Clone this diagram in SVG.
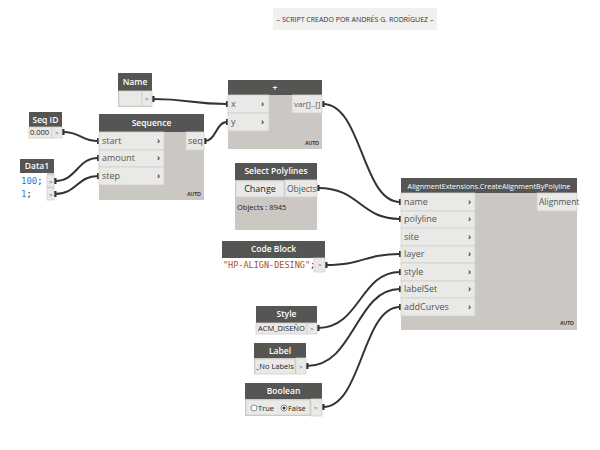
<svg xmlns="http://www.w3.org/2000/svg" width="600" height="450" viewBox="0 0 600 450">
<defs>
<style>
.hd{fill:#555553}
.bd{fill:#cbc8c3}
.cell{fill:#e9e9e7;stroke:#d2d0cc;stroke-width:0.8}
.ht{font-family:"Open Sans","Liberation Sans",sans-serif;font-size:8.5px;font-weight:600;fill:#ffffff;text-anchor:middle}
.pt{font-family:"Open Sans","Liberation Sans",sans-serif;font-size:9px;fill:#555}
.ch{font-family:"Liberation Sans",sans-serif;font-size:9px;font-weight:bold;fill:#333}
.sm{font-family:"Liberation Sans",sans-serif;font-size:6px;fill:#555}
.auto{font-family:"Liberation Sans",sans-serif;font-size:5px;font-weight:bold;fill:#333;text-anchor:end}
.mono{font-family:"DejaVu Sans Mono","Liberation Mono",monospace;font-size:8.5px}
.wire{fill:none;stroke:#333;stroke-width:2}
.note{font-family:"Open Sans","Liberation Sans",sans-serif;font-size:7px;fill:#333;text-anchor:middle}
</style>
<marker id="tick" markerWidth="3" markerHeight="6" refX="1.5" refY="3" orient="auto" markerUnits="userSpaceOnUse">
<rect x="0" y="0" width="3" height="6" fill="#333"/>
</marker>
</defs>
<rect width="600" height="450" fill="#ffffff"/>

<g id="note">
<rect x="273" y="8" width="164" height="22" fill="#f0f0f0"/>
<text class="note" x="355" y="22">– SCRIPT CREADO POR  ANDRÉS G.  RODRÍGUEZ –</text>
</g>

<g id="connectors">
<path class="wire" marker-start="url(#tick)" marker-end="url(#tick)" d="M153,99 C190,99 190,104 227,104"/>
<path class="wire" marker-start="url(#tick)" marker-end="url(#tick)" d="M205,141 C216,141 216,122 227,122"/>
<path class="wire" marker-start="url(#tick)" marker-end="url(#tick)" d="M63,132 C81,132 81,141 98,141"/>
<path class="wire" marker-start="url(#tick)" marker-end="url(#tick)" d="M55,181 C77,181 77,158 98,158"/>
<path class="wire" marker-start="url(#tick)" marker-end="url(#tick)" d="M55,194 C77,194 77,176 98,176"/>
<path class="wire" marker-start="url(#tick)" marker-end="url(#tick)" d="M323,104 C362,104 362,202 400,202"/>
<path class="wire" marker-start="url(#tick)" marker-end="url(#tick)" d="M318,188 C360,188 360,219 400,219"/>
<path class="wire" marker-start="url(#tick)" marker-end="url(#tick)" d="M326,265 C364,265 364,254 400,254"/>
<path class="wire" marker-start="url(#tick)" marker-end="url(#tick)" d="M318,328 C360,328 360,272 400,272"/>
<path class="wire" marker-start="url(#tick)" marker-end="url(#tick)" d="M307,366 C355,366 355,289 400,289"/>
<path class="wire" marker-start="url(#tick)" marker-end="url(#tick)" d="M323,407 C362,407 362,307 400,307"/>
</g>

<g id="name">
<rect class="bd" x="118" y="73" width="34" height="34"/>
<rect class="hd" x="118" y="73" width="34" height="18"/>
<text class="ht" x="135" y="85">Name</text>
<rect class="cell" x="119" y="91" width="23" height="15"/>
<rect class="cell" x="142" y="91" width="10" height="15"/>
<text class="sm" x="145" y="101">&gt;</text>
</g>

<g id="plus">
<rect class="bd" x="228" y="80" width="94" height="69"/>
<rect class="hd" x="228" y="80" width="94" height="15"/>
<text class="ht" x="275" y="91">+</text>
<rect class="cell" x="228" y="95" width="41" height="18"/>
<rect class="cell" x="228" y="113" width="41" height="18"/>
<text class="pt" x="231" y="107">x</text>
<text class="pt" x="231" y="125">y</text>
<text class="ch" x="261" y="107">›</text>
<text class="ch" x="261" y="125">›</text>
<rect class="cell" x="292" y="95" width="30" height="18"/>
<text class="pt" x="294" y="107" style="font-size:8px">var[]..[]</text>
<text class="auto" x="319" y="145">AUTO</text>
</g>

<g id="seqid">
<rect class="bd" x="29" y="112" width="33" height="26"/>
<rect class="hd" x="29" y="112" width="33" height="15"/>
<text class="ht" x="45.5" y="123">Seq ID</text>
<rect class="cell" x="29" y="127" width="23" height="11"/>
<rect class="cell" x="52" y="127" width="10" height="11"/>
<text class="pt" x="30" y="135" style="font-size:7.5px;fill:#222">0.000</text>
<text class="sm" x="55" y="135">&gt;</text>
</g>

<g id="sequence">
<rect class="bd" x="99" y="114" width="105" height="86"/>
<rect class="hd" x="99" y="114" width="105" height="18"/>
<text class="ht" x="151.5" y="126">Sequence</text>
<rect class="cell" x="99" y="132" width="65" height="18"/>
<rect class="cell" x="99" y="150" width="65" height="17"/>
<rect class="cell" x="99" y="167" width="65" height="18"/>
<text class="pt" x="102" y="144">start</text>
<text class="pt" x="102" y="161">amount</text>
<text class="pt" x="102" y="179">step</text>
<text class="ch" x="157" y="144">›</text>
<text class="ch" x="157" y="161">›</text>
<text class="ch" x="157" y="179">›</text>
<rect class="cell" x="186" y="132" width="18" height="18"/>
<text class="pt" x="188" y="144">seq</text>
<text class="auto" x="201" y="196">AUTO</text>
</g>

<g id="data1">
<rect class="bd" x="20" y="159" width="34" height="41"/>
<rect class="hd" x="20" y="159" width="34" height="14"/>
<text class="ht" x="37" y="169">Data1</text>
<rect fill="#ffffff" x="20" y="173" width="27" height="27"/>
<text class="mono" x="21" y="184" style="font-size:9px"><tspan fill="#2b7fd6">100</tspan><tspan fill="#222">;</tspan></text>
<text class="mono" x="21" y="197" style="font-size:9px"><tspan fill="#2b7fd6">1</tspan><tspan fill="#222">;</tspan></text>
<rect class="cell" x="47" y="175" width="7" height="12"/>
<rect class="cell" x="47" y="188" width="7" height="12"/>
<text class="sm" x="49" y="184">&gt;</text>
<text class="sm" x="49" y="197">&gt;</text>
</g>

<g id="selectpolylines">
<rect class="bd" x="235" y="163" width="82" height="67"/>
<rect class="hd" x="235" y="163" width="82" height="17"/>
<text class="ht" x="276" y="174">Select Polylines</text>
<rect class="cell" x="236" y="181" width="48" height="16"/>
<text class="pt" x="260" y="192" text-anchor="middle" style="fill:#222">Change</text>
<rect class="cell" x="285" y="180" width="32" height="17"/>
<text class="pt" x="287" y="192" style="font-size:8.5px">Objects</text>
<text class="pt" x="237" y="210" style="font-size:7.5px;fill:#222">Objects : 8945</text>
</g>

<g id="codeblock">
<rect class="bd" x="222" y="241" width="103" height="31"/>
<rect class="hd" x="222" y="241" width="103" height="17"/>
<text class="ht" x="273.5" y="252">Code Block</text>
<rect fill="#ffffff" x="222" y="258" width="92" height="14"/>
<text class="mono" x="223" y="268"><tspan fill="#a0522d">"HP-ALIGN-DESING"</tspan><tspan fill="#222">;</tspan></text>
<rect class="cell" x="314" y="258" width="11" height="14"/>
<text class="sm" x="318" y="267">&gt;</text>
</g>

<g id="alignment">
<rect class="bd" x="401" y="178" width="176" height="152"/>
<rect class="hd" x="401" y="178" width="176" height="15"/>
<text class="ht" x="489" y="189" style="font-size:7.2px;font-weight:normal">AlignmentExtensions.CreateAlignmentByPolyline</text>
<rect class="cell" x="401" y="193" width="74" height="18"/>
<rect class="cell" x="401" y="211" width="74" height="17"/>
<rect class="cell" x="401" y="228" width="74" height="18"/>
<rect class="cell" x="401" y="246" width="74" height="17"/>
<rect class="cell" x="401" y="263" width="74" height="18"/>
<rect class="cell" x="401" y="281" width="74" height="17"/>
<rect class="cell" x="401" y="298" width="74" height="18"/>
<text class="pt" x="404" y="205">name</text>
<text class="pt" x="404" y="222">polyline</text>
<text class="pt" x="404" y="240">site</text>
<text class="pt" x="404" y="257">layer</text>
<text class="pt" x="404" y="275">style</text>
<text class="pt" x="404" y="292">labelSet</text>
<text class="pt" x="404" y="310">addCurves</text>
<text class="ch" x="468" y="205">›</text>
<text class="ch" x="468" y="222">›</text>
<text class="ch" x="468" y="240">›</text>
<text class="ch" x="468" y="257">›</text>
<text class="ch" x="468" y="275">›</text>
<text class="ch" x="468" y="292">›</text>
<text class="ch" x="468" y="310">›</text>
<rect class="cell" x="537" y="193" width="40" height="18"/>
<text class="pt" x="539" y="205" style="font-size:8.5px">Alignment</text>
<text class="auto" x="574" y="325">AUTO</text>
</g>

<g id="style">
<rect class="bd" x="256" y="306" width="61" height="28"/>
<rect class="hd" x="256" y="306" width="61" height="17"/>
<text class="ht" x="286.5" y="317">Style</text>
<rect class="cell" x="256" y="323" width="51" height="11"/>
<rect class="cell" x="307" y="323" width="10" height="11"/>
<text class="pt" x="258" y="331" style="font-size:7.5px;fill:#222">ACM_DISEÑO</text>
<text class="sm" x="310" y="331">&gt;</text>
</g>

<g id="label">
<rect class="bd" x="254" y="343" width="52" height="31"/>
<rect class="hd" x="254" y="343" width="52" height="15"/>
<text class="ht" x="280" y="354">Label</text>
<rect class="cell" x="255" y="359" width="40" height="15"/>
<rect class="cell" x="296" y="358" width="10" height="16"/>
<text class="pt" x="256" y="369" style="font-size:7.5px;fill:#222">_No Labels</text>
<text class="sm" x="299" y="369">&gt;</text>
</g>

<g id="boolean">
<rect class="bd" x="245" y="383" width="77" height="33"/>
<rect class="hd" x="245" y="383" width="77" height="16"/>
<text class="ht" x="283.5" y="394">Boolean</text>
<rect class="cell" x="246" y="400" width="64" height="15"/>
<rect class="cell" x="311" y="399" width="11" height="17"/>
<circle cx="254" cy="408" r="3" fill="#fff" stroke="#444" stroke-width="0.6"/>
<text class="pt" x="258" y="411" style="font-size:7.5px;fill:#222">True</text>
<circle cx="284" cy="408" r="3" fill="#fff" stroke="#444" stroke-width="0.6"/>
<circle cx="284" cy="408" r="1.5" fill="#333"/>
<text class="pt" x="288" y="411" style="font-size:7.5px;fill:#222">False</text>
<text class="sm" x="314" y="410">&gt;</text>
</g>
</svg>
